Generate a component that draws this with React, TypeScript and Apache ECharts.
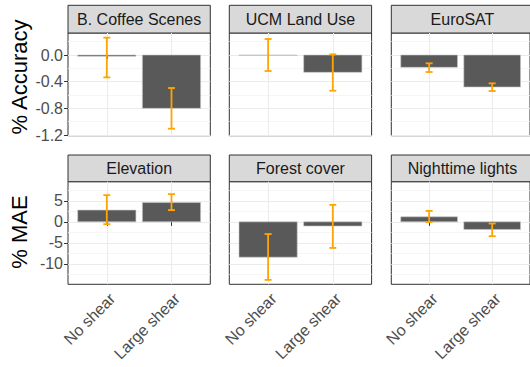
import React, { useEffect, useRef } from "react";
import * as echarts from "echarts";

// Facet titles
const topPanels = ["B. Coffee Scenes", "UCM Land Use", "EuroSAT"];
const bottomPanels = ["Elevation", "Forest cover", "Nighttime lights"];
const categories = ["No shear", "Large shear"];

// % Accuracy change (mean, lower, upper) per panel: [No shear, Large shear]
const accuracyMean = [[-0.02, -0.8], [-0.003, -0.26], [-0.185, -0.48]];
const accuracyLow = [[-0.335, -1.105], [-0.24, -0.535], [-0.255, -0.54]];
const accuracyHigh = [[0.26, -0.495], [0.24, 0.01], [-0.125, -0.425]];

// % MAE change (mean, lower, upper) per panel
const maeMean = [[2.8, 4.6], [-8.4, -1.0], [1.2, -1.8]];
const maeLow = [[-0.55, 2.8], [-13.8, -6.2], [-0.07, -3.4]];
const maeHigh = [[6.36, 6.6], [-2.9, 4.05], [2.6, -0.4]];

// Tick labels
const accuracyTicks = [-1.2, -0.8, -0.4, 0.0];
const accuracyMinor = [-1.0, -0.6, -0.2, 0.2];
const maeTicks = [-10, -5, 0, 5];
const maeMinor = [-12.5, -7.5, -2.5, 2.5, 7.5];

const FONT = "'Liberation Sans', Arial, Helvetica, sans-serif";

export default function App() {
  const ref = useRef<HTMLDivElement>(null);

  useEffect(() => {
    if (!ref.current) return;
    const chart = echarts.init(ref.current, undefined, { renderer: "svg" });

    const lefts = [68, 229.3, 391.3];
    const panelW = 142.3;
    const rows = [
      { top: 33, height: 102.7, stripTop: 5.3, stripH: 27.7, min: -1.21, max: 0.33,
        ticks: accuracyTicks, minor: accuracyMinor, titles: topPanels,
        mean: accuracyMean, low: accuracyLow, high: accuracyHigh,
        fmt: (v: number) => v.toFixed(1), showX: false },
      { top: 181.7, height: 102.6, stripTop: 155, stripH: 26.7, min: -14.85, max: 9.55,
        ticks: maeTicks, minor: maeMinor, titles: bottomPanels,
        mean: maeMean, low: maeLow, high: maeHigh,
        fmt: (v: number) => String(v), showX: true },
    ];

    const grid: any[] = [];
    const xAxis: any[] = [];
    const yAxis: any[] = [];
    const series: any[] = [];
    const graphic: any[] = [];

    rows.forEach((row) => {
      lefts.forEach((left, c) => {
        const gi = grid.length;
        grid.push({
          left, top: row.top, width: panelW, height: row.height,
          show: true, borderColor: "#333333", borderWidth: 1, backgroundColor: "#ffffff",
        });
        xAxis.push({
          type: "value", gridIndex: gi, min: 0.4, max: 2.6,
          axisLine: { show: false },
          axisTick: { show: true, length: 4, customValues: [1, 2], lineStyle: { color: "#333333" } },
          axisLabel: {
            show: row.showX, customValues: [1, 2], rotate: 45, margin: 6,
            align: "right", verticalAlign: "top",
            color: "#4d4d4d", fontSize: 16, fontFamily: FONT,
            formatter: (v: number) => categories[Math.round(v) - 1] ?? "",
          },
          splitLine: { show: true, lineStyle: { color: "#ebebeb", width: 1 } },
        });
        // major y axis
        const yMajor = yAxis.length;
        yAxis.push({
          type: "value", gridIndex: gi, min: row.min, max: row.max,
          axisLine: { show: false },
          axisTick: { show: c === 0, length: 4, customValues: row.ticks, lineStyle: { color: "#333333" } },
          axisLabel: {
            show: c === 0, customValues: row.ticks, margin: 5,
            color: "#4d4d4d", fontSize: 16, fontFamily: FONT,
            formatter: (v: number) => row.fmt(v),
          },
          splitLine: { show: true, lineStyle: { color: "#ebebeb", width: 1 } },
        });
        // minor gridlines
        yAxis.push({
          type: "value", gridIndex: gi, min: row.min, max: row.max,
          axisLine: { show: false },
          axisTick: { show: false, customValues: row.minor },
          axisLabel: { show: false, customValues: row.minor },
          splitLine: { show: true, lineStyle: { color: "#f2f2f2", width: 0.8 } },
        });

        const barData = categories.map((_, k) => [k + 1, row.mean[c][k]]);
        const errData = categories.map((_, k) => [k + 1, row.low[c][k], row.high[c][k]]);

        series.push({
          type: "custom", xAxisIndex: gi, yAxisIndex: yMajor, z: 3,
          data: barData,
          renderItem: (_p: any, api: any) => {
            const x = api.value(0);
            const v = api.value(1);
            const p0 = api.coord([x - 0.45, 0]);
            const p1 = api.coord([x + 0.45, v]);
            return {
              type: "rect",
              shape: {
                x: Math.min(p0[0], p1[0]), y: Math.min(p0[1], p1[1]),
                width: Math.abs(p1[0] - p0[0]), height: Math.abs(p1[1] - p0[1]),
              },
              style: { fill: "#595959", stroke: "#c8c8c8", lineWidth: 0.6 },
            };
          },
        });
        series.push({
          type: "custom", xAxisIndex: gi, yAxisIndex: yMajor, z: 4,
          data: errData,
          renderItem: (_p: any, api: any) => {
            const x = api.value(0);
            const lo = api.coord([x, api.value(1)]);
            const hi = api.coord([x, api.value(2)]);
            const capHalf = 3.5;
            const st = { stroke: "#FFA500", lineWidth: 1.8 };
            return {
              type: "group",
              children: [
                { type: "line", shape: { x1: lo[0], y1: lo[1], x2: hi[0], y2: hi[1] }, style: st },
                { type: "line", shape: { x1: lo[0] - capHalf, y1: lo[1], x2: lo[0] + capHalf, y2: lo[1] }, style: st },
                { type: "line", shape: { x1: hi[0] - capHalf, y1: hi[1], x2: hi[0] + capHalf, y2: hi[1] }, style: st },
              ],
            };
          },
        });

        // facet strip
        graphic.push({
          type: "rect",
          shape: { x: left, y: row.stripTop, width: panelW, height: row.stripH },
          style: { fill: "#d9d9d9", stroke: "#333333", lineWidth: 1 },
        });
        graphic.push({
          type: "text",
          x: left + panelW / 2, y: row.stripTop + row.stripH / 2 + 0.5,
          style: {
            text: row.titles[c], fill: "#1a1a1a", fontSize: 16, fontFamily: FONT,
            align: "center", verticalAlign: "middle",
          },
        });
      });
    });

    graphic.push({
      type: "text", x: 19, y: 77, rotation: Math.PI / 2,
      style: { text: "% Accuracy", fill: "#000000", fontSize: 22, fontFamily: FONT, align: "center", verticalAlign: "middle" },
    });
    graphic.push({
      type: "text", x: 19, y: 232, rotation: Math.PI / 2,
      style: { text: "% MAE", fill: "#000000", fontSize: 22, fontFamily: FONT, align: "center", verticalAlign: "middle" },
    });

    chart.setOption({
      animation: false,
      backgroundColor: "#ffffff",
      textStyle: { fontFamily: FONT },
      grid, xAxis, yAxis, series, graphic,
    });

    return () => chart.dispose();
  }, []);

  return (
    <div
      ref={ref}
      style={{ position: "fixed", left: 0, top: 0, width: 530, height: 367 }}
    />
  );
}
